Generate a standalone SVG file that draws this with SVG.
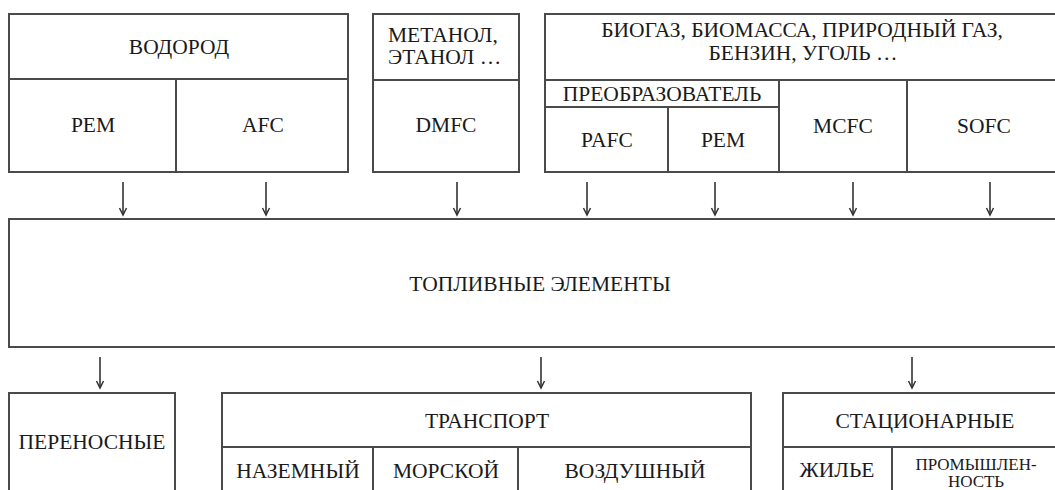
<svg xmlns="http://www.w3.org/2000/svg" width="1055" height="490" viewBox="0 0 1055 490">
<defs>
<marker id="ah" markerWidth="10" markerHeight="10" refX="8" refY="5" orient="auto" markerUnits="userSpaceOnUse" viewBox="0 0 10 10">
<path d="M1,1.5 L8,5 L1,8.5" fill="none" stroke="#333" stroke-width="1.5"/>
</marker>
<style>
.b{fill:#fff;stroke:#4a4a4a;stroke-width:2}
.l{stroke:#4a4a4a;stroke-width:2;fill:none}
.t{font-family:"Liberation Serif","Times New Roman",serif;font-size:21.5px;fill:#1a1a1a;text-anchor:middle}
.s{font-size:17px}
.a{stroke:#333;stroke-width:1.6;fill:none;marker-end:url(#ah)}
</style>
</defs>
<rect width="1055" height="490" fill="#fff"/>

<g id="vodorod">
<rect class="b" x="9" y="14" width="339" height="158"/>
<line class="l" x1="9" y1="79" x2="348" y2="79"/>
<line class="l" x1="176" y1="79" x2="176" y2="172"/>
<text class="t" x="179" y="54">ВОДОРОД</text>
<text class="t" x="93" y="132">PEM</text>
<text class="t" x="263" y="132">AFC</text>
</g>

<g id="metanol">
<rect class="b" x="373" y="14" width="146" height="158"/>
<line class="l" x1="373" y1="80" x2="519" y2="80"/>
<text class="t" x="388" y="42" style="text-anchor:start">МЕТАНОЛ,</text>
<text class="t" x="388" y="64" style="text-anchor:start">ЭТАНОЛ …</text>
<text class="t" x="446" y="132">DMFC</text>
</g>

<g id="biogaz">
<rect class="b" x="545" y="14" width="517" height="158"/>
<line class="l" x1="545" y1="80" x2="1062" y2="80"/>
<line class="l" x1="545" y1="107" x2="779" y2="107"/>
<line class="l" x1="779" y1="80" x2="779" y2="172"/>
<line class="l" x1="668" y1="107" x2="668" y2="172"/>
<line class="l" x1="907" y1="80" x2="907" y2="172"/>
<text class="t" x="802" y="37">БИОГАЗ, БИОМАССА, ПРИРОДНЫЙ ГАЗ,</text>
<text class="t" x="803" y="60">БЕНЗИН, УГОЛЬ …</text>
<text class="t" x="662" y="101">ПРЕОБРАЗОВАТЕЛЬ</text>
<text class="t" x="607" y="147">PAFC</text>
<text class="t" x="723" y="147">PEM</text>
<text class="t" x="843" y="133">MCFC</text>
<text class="t" x="984" y="133">SOFC</text>
</g>

<g id="toplivnye">
<rect class="b" x="9" y="219" width="1053" height="128"/>
<text class="t" x="540" y="291">ТОПЛИВНЫЕ ЭЛЕМЕНТЫ</text>
</g>

<g id="perenosnye">
<rect class="b" x="9" y="393" width="166" height="110"/>
<text class="t" x="92" y="449">ПЕРЕНОСНЫЕ</text>
</g>

<g id="transport">
<rect class="b" x="222" y="393" width="529" height="110"/>
<line class="l" x1="222" y1="447" x2="751" y2="447"/>
<line class="l" x1="373" y1="447" x2="373" y2="503"/>
<line class="l" x1="518" y1="447" x2="518" y2="503"/>
<text class="t" x="487" y="428">ТРАНСПОРТ</text>
<text class="t" x="298" y="478">НАЗЕМНЫЙ</text>
<text class="t" x="446" y="478">МОРСКОЙ</text>
<text class="t" x="635" y="478">ВОЗДУШНЫЙ</text>
</g>

<g id="stacionarnye">
<rect class="b" x="783" y="393" width="279" height="110"/>
<line class="l" x1="783" y1="447" x2="1062" y2="447"/>
<line class="l" x1="892" y1="447" x2="892" y2="503"/>
<text class="t" x="925" y="428">СТАЦИОНАРНЫЕ</text>
<text class="t" x="837" y="477">ЖИЛЬЕ</text>
<text class="t s" x="976" y="470">ПРОМЫШЛЕН-</text>
<text class="t s" x="976" y="487">НОСТЬ</text>
</g>

<g id="connectors">
<line class="a" x1="123" y1="182" x2="123" y2="215"/>
<line class="a" x1="266" y1="182" x2="266" y2="215"/>
<line class="a" x1="457" y1="182" x2="457" y2="215"/>
<line class="a" x1="587" y1="182" x2="587" y2="215"/>
<line class="a" x1="715" y1="182" x2="715" y2="215"/>
<line class="a" x1="853" y1="182" x2="853" y2="215"/>
<line class="a" x1="990" y1="182" x2="990" y2="215"/>
<line class="a" x1="100" y1="357" x2="100" y2="388"/>
<line class="a" x1="541" y1="357" x2="541" y2="388"/>
<line class="a" x1="912" y1="357" x2="912" y2="388"/>
</g>
</svg>
